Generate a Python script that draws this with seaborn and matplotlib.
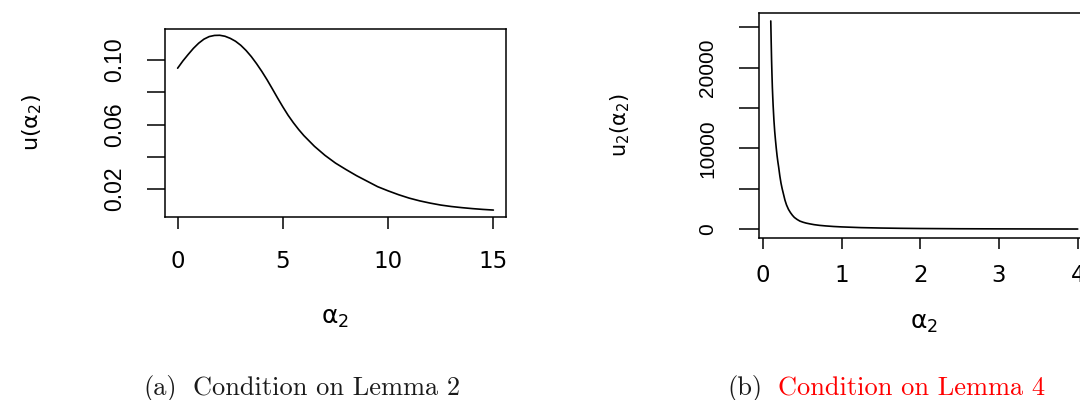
import matplotlib
matplotlib.use('Agg')
import matplotlib.pyplot as plt
import seaborn as sns

# values
alpha2_a = [0, 0.25, 0.5, 0.75, 1.0, 1.25, 1.5, 1.75, 2.0, 2.25, 2.5, 2.75, 3.0, 3.25, 3.5,
            3.75, 4.0, 4.25, 4.5, 4.75, 5.0, 5.25, 5.5, 5.75, 6.0, 6.5, 7.0, 7.5, 8.0, 8.5,
            9.0, 9.5, 10.0, 10.5, 11.0, 11.5, 12.0, 12.5, 13.0, 13.5, 14.0, 14.5, 15.0]
u_a = [0.0950, 0.0995, 0.1035, 0.1073, 0.1105, 0.1130, 0.1146, 0.1153, 0.1154, 0.1148,
       0.1135, 0.1117, 0.1092, 0.1060, 0.1022, 0.0978, 0.0930, 0.0878, 0.0822, 0.0765,
       0.0710, 0.0658, 0.0612, 0.0570, 0.0532, 0.0466, 0.0410, 0.0362, 0.0322, 0.0284,
       0.0250, 0.0216, 0.0190, 0.0166, 0.0145, 0.0128, 0.0114, 0.0102, 0.0093, 0.0086,
       0.0080, 0.0075, 0.0071]

alpha2_b = [0.100, 0.105, 0.110, 0.115, 0.120, 0.125, 0.130, 0.140, 0.150, 0.160, 0.170,
            0.180, 0.190, 0.200, 0.215, 0.230, 0.245, 0.260, 0.280, 0.300, 0.325, 0.350,
            0.375, 0.400, 0.435, 0.470, 0.510, 0.550, 0.600, 0.650, 0.720, 0.800, 0.900,
            1.0, 1.25, 1.5, 1.75, 2.0, 2.5, 3.0, 3.5, 4.0]
u2_b = [25800, 23300, 21000, 19200, 17600, 16400, 15300, 13500, 12100, 11000, 10000,
        9100, 8350, 7700, 6600, 5700, 5000, 4400, 3600, 3000, 2450, 2050,
        1720, 1450, 1200, 1000, 860, 750, 650, 560, 470, 400, 330,
        280, 190, 140, 105, 80, 50, 35, 25, 18]

xticks_a = [0, 5, 10, 15]
yticks_a = [0.02, 0.04, 0.06, 0.08, 0.10]
ylabels_a = ['0.02', '', '0.06', '', '0.10']
xticks_b = [0, 1, 2, 3, 4]
yticks_b = [0, 5000, 10000, 15000, 20000, 25000]
ylabels_b = ['0', '', '10000', '', '20000', '']

sns.set_style('ticks')
plt.rcParams['font.family'] = ['DejaVu Sans']
plt.rcParams['mathtext.fontset'] = 'dejavusans'
for k in ['text.color', 'axes.labelcolor', 'xtick.color', 'ytick.color', 'axes.edgecolor']:
    plt.rcParams[k] = 'black'

fig = plt.figure(figsize=(10.8, 4), dpi=100)
ax1 = fig.add_axes([165 / 1080, 1 - 217 / 400, 341 / 1080, 188.5 / 400])
ax2 = fig.add_axes([758.5 / 1080, 1 - 237.5 / 400, 331.5 / 1080, 225 / 400])

sns.lineplot(x=alpha2_a, y=u_a, ax=ax1, color='black', lw=1.2, estimator=None)
sns.lineplot(x=alpha2_b, y=u2_b, ax=ax2, color='black', lw=1.2, estimator=None)

ax1.set_xlim(-0.6, 15.6)
ax1.set_ylim(0.0028, 0.1196)
ax2.set_xlim(-0.056, 4.156)
ax2.set_ylim(-1033, 26850)

for ax in (ax1, ax2):
    for sp in ax.spines.values():
        sp.set_visible(True)
        sp.set_linewidth(1.1)
        sp.set_color('black')

ax1.set_xticks(xticks_a)
ax1.set_xticklabels([str(t) for t in xticks_a], fontsize=16.5)
ax1.set_yticks(yticks_a)
ax1.set_yticklabels(ylabels_a, rotation=90, va='center', fontsize=16.5, family='Liberation Sans')
ax1.tick_params(axis='x', direction='out', length=8.6, width=1.1, pad=15)
ax1.tick_params(axis='y', direction='out', length=13, width=1.1, pad=15)

ax2.set_xticks(xticks_b)
ax2.set_xticklabels([str(t) for t in xticks_b], fontsize=16.5)
ax2.set_yticks(yticks_b)
ax2.set_yticklabels(ylabels_b, rotation=90, va='center', fontsize=15, family='Liberation Sans')
ax2.tick_params(axis='x', direction='out', length=8, width=1.1, pad=11)
ax2.tick_params(axis='y', direction='out', length=14.4, width=1.1, pad=15.5)

ax1.set_xlabel(r'$\mathrm{\alpha}_2$', fontsize=18)
ax1.set_ylabel(r'u($\mathrm{\alpha}_2$)', fontsize=16)
ax1.xaxis.set_label_coords(0.5, -0.47)
ax1.yaxis.set_label_coords(-0.355, 0.5)

ax2.set_xlabel(r'$\mathrm{\alpha}_2$', fontsize=18)
ax2.set_ylabel(r'u$_2$($\mathrm{\alpha}_2$)', fontsize=15)
ax2.xaxis.set_label_coords(0.5, -0.325)
ax2.yaxis.set_label_coords(-0.382, 0.5)

# sub-figure captions
cap = dict(family='cmr10', fontsize=19, va='baseline', ha='left')
fig.text(143 / 1080, 5 / 400, '(a)', color='#1a1a1a', **cap)
fig.text(193 / 1080, 5 / 400, 'Condition on Lemma 2', color='#1a1a1a', **cap)
fig.text(727 / 1080, 5 / 400, '(b)', color='#1a1a1a', **cap)
fig.text(778 / 1080, 5 / 400, 'Condition on Lemma 4', color='red', **cap)

fig.savefig('out.png', dpi=100)
